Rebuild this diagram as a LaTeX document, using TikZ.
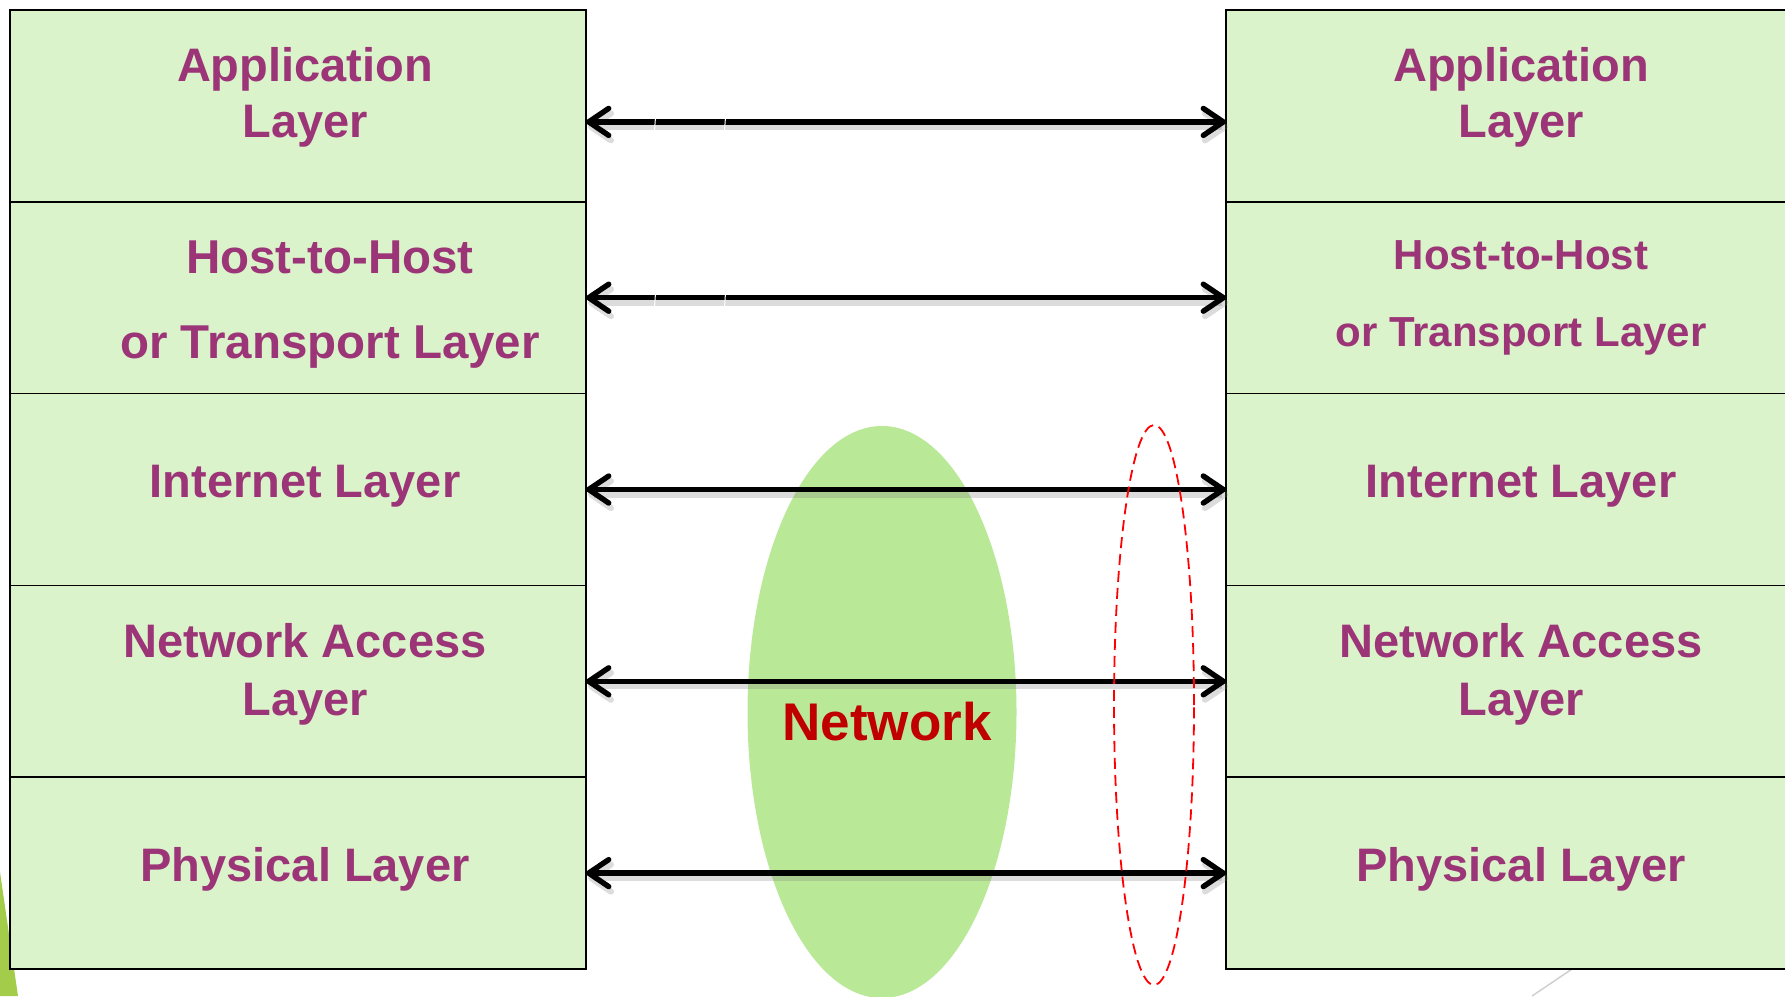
\documentclass[tikz,border=0pt]{standalone}
\usepackage{fontspec}
\setmainfont{Liberation Sans}
\usetikzlibrary{arrows.meta,shapes.geometric}
\definecolor{boxfill}{HTML}{DBF3CA}
\definecolor{cloudgreen}{HTML}{B9E897}
\definecolor{layertext}{HTML}{9B3577}
\definecolor{netred}{HTML}{C00000}
\definecolor{accentgreen}{HTML}{A3CC4A}
\definecolor{accentgray}{HTML}{D0D0D0}
\begin{document}
\begin{tikzpicture}[x=1pt,y=-1pt,
  layerbox/.style={draw=black, line width=1.7pt, fill=boxfill,
    minimum width=576pt, minimum height=191.8pt, inner sep=0pt, outer sep=0pt},
  lbl/.style={text=layertext, font=\fontsize{47}{56}\selectfont\bfseries,
    anchor=base, inner sep=0pt},
  lblbig/.style={lbl, font=\fontsize{47.5}{56}\selectfont\bfseries},
  lblsmall/.style={lbl, font=\fontsize{42}{50}\selectfont\bfseries},
  link/.style={draw=black, line width=5.4pt, {Straight Barb[length=20pt,width=27pt,round]}-{Straight Barb[length=20pt,width=27pt,round]}},
  linkshadow/.style={link, draw=gray, opacity=0.28, line width=6pt},
  gapmark/.style={draw=white, line width=1pt}
]
\useasboundingbox (0,0) rectangle (1785,996);

% slide decorations
\fill[accentgreen] (0,872) -- (18,996) -- (0,996) -- cycle;
\draw[accentgray, line width=1.5pt] (1572,969) -- (1532,996);

% the network cloud
\node[ellipse, fill=cloudgreen, minimum width=269pt, minimum height=572pt,
  inner sep=0pt] (cloud) at (882,712) {};

% left protocol stack
\node[layerbox] (A1) at (298,105.9) {};
\node[layerbox] (A2) at (298,297.7) {};
\node[layerbox] (A3) at (298,489.5) {};
\node[layerbox] (A4) at (298,681.3) {};
\node[layerbox] (A5) at (298,873.1) {};

% right protocol stack
\node[layerbox] (B1) at (1514,105.9) {};
\node[layerbox] (B2) at (1514,297.7) {};
\node[layerbox] (B3) at (1514,489.5) {};
\node[layerbox] (B4) at (1514,681.3) {};
\node[layerbox] (B5) at (1514,873.1) {};

% left labels
\node[lbl] (a1a) at (305,81) {Application};
\node[lbl] (a1b) at (305,137.5) {Layer};
\node[lblbig] (a2a) at (330,273) {Host-to-Host};
\node[lblbig] (a2b) at (330,358) {or Transport Layer};
\node[lbl] (a3a) at (305,497) {Internet Layer};
\node[lbl] (a4a) at (305,657) {Network Access};
\node[lbl] (a4b) at (305,715) {Layer};
\node[lbl] (a5a) at (305,881) {Physical Layer};

% right labels
\node[lbl] (b1a) at (1521,81) {Application};
\node[lbl] (b1b) at (1521,137.5) {Layer};
\node[lblsmall] (b2a) at (1521,269) {Host-to-Host};
\node[lblsmall] (b2b) at (1521,346) {or Transport Layer};
\node[lbl] (b3a) at (1521,497) {Internet Layer};
\node[lbl] (b4a) at (1521,657) {Network Access};
\node[lbl] (b4b) at (1521,715) {Layer};
\node[lbl] (b5a) at (1521,881) {Physical Layer};

% peer-to-peer links with soft shadows
\draw[linkshadow] ([shift={(2pt,-21pt)}]A1.east) -- ([shift={(2pt,-21pt)}]B1.west);
\draw[linkshadow] ([shift={(2pt,-5pt)}]A2.east) -- ([shift={(2pt,-5pt)}]B2.west);
\draw[linkshadow] ([shift={(2pt,-5pt)}]A3.east) -- ([shift={(2pt,-5pt)}]B3.west);
\draw[linkshadow] ([shift={(2pt,-5pt)}]A4.east) -- ([shift={(2pt,-5pt)}]B4.west);
\draw[linkshadow] ([shift={(2pt,-5pt)}]A5.east) -- ([shift={(2pt,-5pt)}]B5.west);

\draw[link] ([yshift=-16pt]A1.east) -- ([yshift=-16pt]B1.west);
\draw[link] (A2.east) -- (B2.west);
\draw[link] (A3.east) -- (B3.west);
\draw[link] (A4.east) -- (B4.west);
\draw[link] (A5.east) -- (B5.west);

% small breaks in the upper two links
\draw[gapmark] (655.5,117) -- (654.5,131);
\draw[gapmark] (725.5,117) -- (724.5,131);
\draw[gapmark] (655.5,293) -- (654.5,307);
\draw[gapmark] (725.5,293) -- (724.5,307);

% network label
\node[text=netred, font=\fontsize{53}{60}\selectfont\bfseries, anchor=base,
  inner sep=0pt] (netlbl) at (887,740) {Network};

% dashed grouping ring
\node[ellipse, draw=red, line width=1.8pt, dash pattern=on 11pt off 6pt,
  minimum width=80pt, minimum height=560pt, inner sep=0pt] (ring) at (1154,705) {};
\end{tikzpicture}
\end{document}
